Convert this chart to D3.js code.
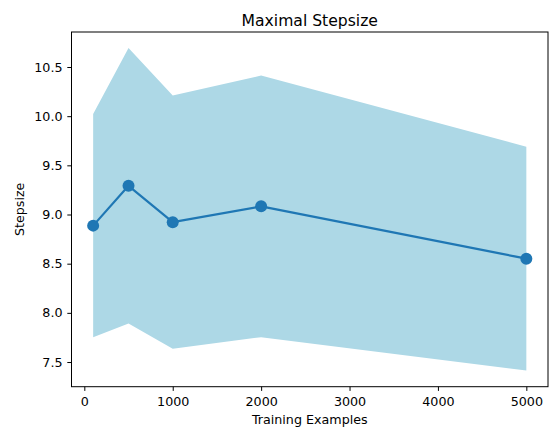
<!DOCTYPE html>
<html>
<head>
<meta charset="utf-8">
<script src="https://cdn.jsdelivr.net/npm/d3@7"></script>
<style>
  html, body { margin: 0; padding: 0; background: #fff; }
  svg { display: block; }
  text { font-family: "DejaVu Sans", sans-serif; fill: #000; }
</style>
</head>
<body>
<svg id="chart" width="549" height="429"></svg>
<script>
// Data
const examples = [100, 500, 1000, 2000, 5000];
const meanStep = [8.887, 9.292, 8.922, 9.083, 8.551];
const upperStep = [10.023, 10.692, 10.210, 10.413, 9.689];
const lowerStep = [7.751, 7.892, 7.634, 7.753, 7.413];
const xTicks = [0, 1000, 2000, 3000, 4000, 5000];
const yTicks = [7.5, 8.0, 8.5, 9.0, 9.5, 10.0, 10.5];

const W = 549, H = 429;
const m = { left: 71.5, right: 548, top: 32, bottom: 386.7 };

const svg = d3.select("#chart");

// matplotlib-style 5% margins
const xMin = d3.min(examples), xMax = d3.max(examples);
const xPad = (xMax - xMin) * 0.05;
const yMin = d3.min(lowerStep), yMax = d3.max(upperStep);
const yPad = (yMax - yMin) * 0.05;

const x = d3.scaleLinear().domain([xMin - xPad, xMax + xPad]).range([m.left, m.right]);
const y = d3.scaleLinear().domain([yMin - yPad, yMax + yPad]).range([m.bottom, m.top]);

const rows = examples.map((e, i) => ({ e, mean: meanStep[i], lo: lowerStep[i], hi: upperStep[i] }));

// band
svg.append("path")
  .datum(rows)
  .attr("fill", "#add8e6")
  .attr("d", d3.area().x(d => x(d.e)).y0(d => y(d.lo)).y1(d => y(d.hi)));

// line
svg.append("path")
  .datum(rows)
  .attr("fill", "none")
  .attr("stroke", "#1f77b4")
  .attr("stroke-width", 2.2)
  .attr("stroke-linejoin", "round")
  .attr("d", d3.line().x(d => x(d.e)).y(d => y(d.mean)));

svg.append("g").selectAll("circle")
  .data(rows).join("circle")
  .attr("cx", d => x(d.e))
  .attr("cy", d => y(d.mean))
  .attr("r", 6)
  .attr("fill", "#1f77b4");

// axes
const fs = "12.7px";
const xAxis = svg.append("g")
  .attr("transform", `translate(0,${m.bottom})`)
  .call(d3.axisBottom(x).tickValues(xTicks).tickSize(4.2).tickPadding(6.3).tickFormat(d3.format("d")));
const yAxis = svg.append("g")
  .attr("transform", `translate(${m.left},0)`)
  .call(d3.axisLeft(y).tickValues(yTicks).tickSize(4.2).tickPadding(4.8).tickFormat(d3.format(".1f")));
[xAxis, yAxis].forEach(g => {
  g.select(".domain").remove();
  g.selectAll(".tick line").attr("stroke", "#000").attr("stroke-width", 1);
  g.selectAll(".tick text").style("font-size", fs).style("font-family", "'DejaVu Sans', sans-serif").attr("fill", "#000");
});

// frame
svg.append("rect")
  .attr("x", m.left).attr("y", m.top)
  .attr("width", m.right - m.left).attr("height", m.bottom - m.top)
  .attr("fill", "none").attr("stroke", "#000").attr("stroke-width", 1);

// title & labels
svg.append("text")
  .attr("x", (m.left + m.right) / 2).attr("y", 25.5)
  .attr("text-anchor", "middle")
  .style("font-size", "15.6px")
  .text("Maximal Stepsize");

svg.append("text")
  .attr("x", (m.left + m.right) / 2).attr("y", 424)
  .attr("text-anchor", "middle")
  .style("font-size", fs)
  .text("Training Examples");

svg.append("text")
  .attr("transform", `translate(23.5,${(m.top + m.bottom) / 2}) rotate(-90)`)
  .attr("text-anchor", "middle")
  .style("font-size", fs)
  .text("Stepsize");
</script>
</body>
</html>
